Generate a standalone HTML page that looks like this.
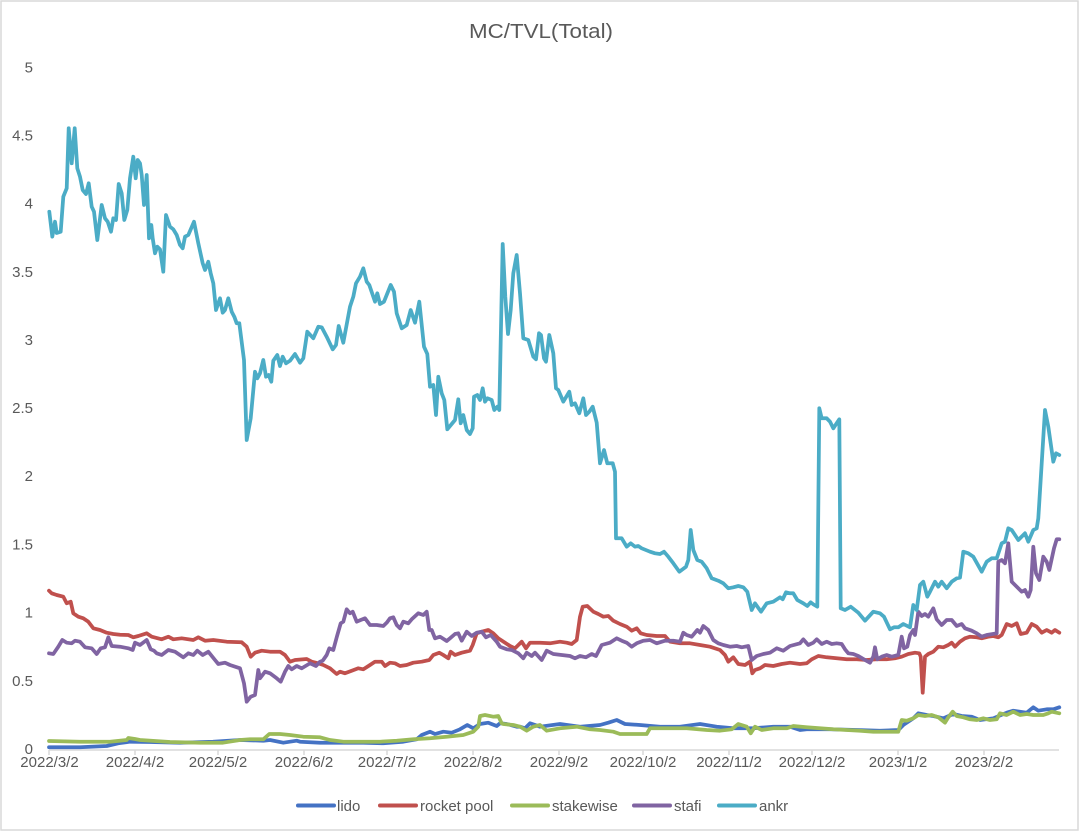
<!DOCTYPE html>
<html>
<head>
<meta charset="utf-8">
<style>
html,body{margin:0;padding:0;background:#fff;}
svg{display:block;}
text{font-family:"Liberation Sans",Arial,sans-serif;fill:#595959;}
</style>
</head>
<body>
<svg width="1080" height="832" viewBox="0 0 1080 832" xmlns="http://www.w3.org/2000/svg">
<rect x="0" y="0" width="1080" height="832" fill="#fff"/>
<rect x="1" y="1" width="1077" height="829" fill="none" stroke="#d9d9d9" stroke-width="1.5"/>

<text x="541" y="38" font-size="20" text-anchor="middle" textLength="144" lengthAdjust="spacingAndGlyphs">MC/TVL(Total)</text>

<!-- y labels -->
<g font-size="15" text-anchor="end">
<text x="33" y="754">0</text>
<text x="33" y="686">0.5</text>
<text x="33" y="617.5">1</text>
<text x="33" y="549.5">1.5</text>
<text x="33" y="481">2</text>
<text x="33" y="413">2.5</text>
<text x="33" y="345">3</text>
<text x="33" y="277">3.5</text>
<text x="33" y="208.5">4</text>
<text x="33" y="140.5">4.5</text>
<text x="33" y="72.5">5</text>
</g>

<!-- x axis -->
<line x1="49" y1="750" x2="1059" y2="750" stroke="#d9d9d9" stroke-width="1.5"/>
<g stroke="#d9d9d9" stroke-width="1.5">
<line x1="49" y1="750" x2="49" y2="755"/>
<line x1="135" y1="750" x2="135" y2="755"/>
<line x1="218" y1="750" x2="218" y2="755"/>
<line x1="304" y1="750" x2="304" y2="755"/>
<line x1="387" y1="750" x2="387" y2="755"/>
<line x1="473" y1="750" x2="473" y2="755"/>
<line x1="559" y1="750" x2="559" y2="755"/>
<line x1="643" y1="750" x2="643" y2="755"/>
<line x1="729" y1="750" x2="729" y2="755"/>
<line x1="812" y1="750" x2="812" y2="755"/>
<line x1="898" y1="750" x2="898" y2="755"/>
<line x1="984" y1="750" x2="984" y2="755"/>
</g>
<g font-size="15" text-anchor="middle">
<text x="49.5" y="767">2022/3/2</text>
<text x="135" y="767">2022/4/2</text>
<text x="218" y="767">2022/5/2</text>
<text x="304" y="767">2022/6/2</text>
<text x="387" y="767">2022/7/2</text>
<text x="473" y="767">2022/8/2</text>
<text x="559" y="767">2022/9/2</text>
<text x="643" y="767">2022/10/2</text>
<text x="729" y="767">2022/11/2</text>
<text x="812" y="767">2022/12/2</text>
<text x="898" y="767">2023/1/2</text>
<text x="984" y="767">2023/2/2</text>
</g>

<g fill="none" stroke-width="3.75" stroke-linejoin="round" stroke-linecap="round">
<!-- lido -->
<polyline stroke="#4472C4" points="49,747.3 80,747.3 106.7,746 118.3,743.3 130,741.7 150,742 180,742.7 213,741.7 240,740 263.3,740.7 270,740 283.3,742.7 296.7,740.7 300,741.7 320,742.7 330,742.7 363.3,742.7 383.3,743.3 403.3,741.7 416.7,739.3 421.7,735 430,731.7 435,734 443.3,731.7 451.7,732.7 460,729.3 467.3,725 473.3,728.3 480,724 488.3,722.7 496.7,726 500,723.3 506.7,724 516.7,726.7 520,726.7 525,728.3 530,723.3 540,726.7 560,724 580,726.7 600,725 608.3,722.7 616.7,720 625,724 640,725 660,726.7 680,726.7 700,724 716.7,726.7 733.3,728.3 753.3,728.3 773.3,726.7 790,726.7 800,730 806.7,729.3 830,729.3 856.7,730 880,730.7 898.3,730 903.3,725 913.3,718.3 918.3,713.3 926.7,715 933.3,716 943.3,718.3 953.3,714 961.7,716 971.7,716.7 980,720 993.3,718.3 1006.7,712.7 1013.3,710.7 1026.7,712.7 1033.3,707.3 1038.3,710.7 1046.7,709.3 1053.3,709.3 1059.3,707.3"/>
<!-- rocket pool -->
<polyline stroke="#C0504D" points="49,590.7 51.7,593.3 56.7,595 63.3,596.7 66.7,603.3 70.7,601.7 73.3,613.3 78.3,616.7 83.3,618.3 88.3,621.7 93.3,628.3 100,630 106.7,632.7 113.3,634 120,634.7 128.3,635 133.3,637.3 138.3,636 146.7,633.3 151.7,636.7 161.7,639.3 168.3,636.7 173.3,639.3 181.7,638.3 193.3,640 198.3,637.3 205,640.7 213.3,640 226.7,641.7 241.7,642.3 246.7,646.7 250.7,656.7 255,652.7 261.7,650.7 270,651.7 280,651.7 285,655 290,661.7 295,660 306.7,659 311.7,661.7 318.3,663.3 323.3,665 330,668.3 336.7,674 340,671.7 345,673.3 351.7,670.7 358.3,668.3 363.3,669.3 370,665 375,661.7 381.7,661.7 385,666 390,662.7 395,663.3 400,666 406.7,665 413.3,662.7 421.7,661.7 429.3,660 433.3,655 439.3,652.7 443.3,655 448.3,658.3 450.7,651.7 455,655 461.7,652.7 470,650.7 472.7,645 476.7,633.3 481.7,631.7 488.3,630 493.3,633.3 498.3,638.3 505,642.7 510,646 515,648.3 521.7,641.7 526,648.3 530,642.7 540,642.7 550,643.3 560,641.7 566.7,642.7 571.7,644 576.7,640 580,616.7 582.7,606.7 587.3,606 593.3,611.7 598.3,614 603.3,616.7 608.3,616 613.3,620.7 620,624 626.7,626.7 631.7,630.7 636.7,628.3 640.7,633.3 646.7,635 656.7,636 665,636 670,641.7 680,643.3 690,643.3 700,645 710,646.7 720,650 725,655 728.3,661.7 733.3,657.3 738.3,664 745,665 750,661.7 752.3,673.3 755,670 760,668.3 765,665 773.3,666 781.7,664 790,662.7 800,664 806.7,663.3 811.7,659.3 818.3,656 826.7,657.3 836.7,658.3 846.7,659.3 856.7,659.3 866.7,660 876.7,659.3 886.7,659.3 895,658.3 901.7,656.7 908.3,654 915,652.7 919.3,653.3 920.7,656.7 922.7,692.7 925,656.7 928.3,654 933.3,651.7 938.3,646.7 943.3,647.3 948.3,645 951.7,642.7 955,646.7 960,641.7 965,638.3 970,636.7 976.7,637.3 981.7,638.3 988.3,636.7 993.3,636 998.3,637.3 1001.7,635 1006.7,624 1011.7,626 1016.7,623.3 1020.7,634 1026.7,632.7 1031.7,624 1036.7,626.7 1041.7,632.7 1046.7,630 1051.7,632.7 1055,630 1059.3,632.7"/>
<!-- stakewise -->
<polyline stroke="#9BBB59" points="49,741 80,741.7 110,741.7 126.7,740 128.3,738 135,739 140,740 170,742 200,742.7 213,742.7 223,742.7 240,740 250,739.3 263.3,739.3 269.3,734 280,734 290,735 303.3,736.7 320,737.3 330,740 343.3,741.7 363.3,741.7 380,741.7 396.7,740.7 413.3,739.3 430,738.3 446.7,736.7 463.3,735 473.3,731.7 478.3,726.7 480,716 485,715 493.3,716.7 498.3,716 501.7,723.3 503.3,724 513.3,725 520,726.7 526.7,730.7 533.3,726.7 540,725 546.7,730.7 560,728.3 576.7,726.7 590,729.3 600,730 613.3,731.7 620,734 633.3,734 646.7,734 650,728.3 666.7,728.3 686.7,728.3 706.7,730 720,730.7 731.7,729.3 738.3,724 746.7,726.7 750.7,733.3 755,726.7 761.7,730 773.3,728.3 786.7,728.3 793.3,726 806.7,727.3 820,728.3 833.3,729.3 846.7,730 860,730.7 873.3,731.7 886.7,731.7 898.3,731.7 901.7,720 906.7,720.7 913.3,718.3 918.3,715 925,716 931.7,715 938.3,717.3 945,722.7 948.3,717.3 952.7,711.7 956.7,716 963.3,717.3 970,719.3 976.7,720 983.3,718.3 990,720 996.7,719.3 1000,713.3 1006.7,715 1013.3,711.7 1020,715 1026.7,714 1033.3,715 1043.3,715 1048.3,713.3 1051.7,711.7 1059.3,713.3"/>
<!-- stafi -->
<polyline stroke="#8064A2" points="49,653.3 53.3,654 58.3,646.7 62.3,640 66.7,642.7 71.7,643.3 75,640.7 80,641.7 85,647.3 91.7,648.3 96.7,654 100.7,648.3 105,647.3 108.3,637.3 111.7,646 120,646.7 128.3,648.3 132.7,650 135,642.7 140,645 146.7,640 150.7,649.3 154,650.7 156.7,653.3 161.7,655 168.3,650 175,651.7 183.3,657.3 188.3,653.3 193.3,655 197.3,650.7 202.7,655 208.3,651.7 215,660 218.3,664 225,662.7 230,665 240,668.3 244,683.3 246.7,701.7 250.7,696.7 255,695 258.3,670 260,678.3 265,671.7 270,673.3 276.7,678.3 280.7,681.7 285,671.7 288.3,666 291.7,669.3 296.7,666 301.7,668.3 310,663.3 316,666 320,661.7 322.7,660.7 326.7,655 329.3,648.3 333.3,650 336.7,637.3 340.7,623.3 343.3,621.7 346.7,609.3 350,613.3 352.7,611.7 356.7,621.7 360.7,620 365,618.3 370,625 376.7,625 383.3,626 386.7,622.7 390,618.3 393.3,617.3 396.7,625 400,628.3 403.3,621.7 408.3,623.3 411.7,619.3 418.3,613.3 423.3,615 426.7,611.7 429.3,630 431.7,630 435,638.3 440,636.7 446.7,641 450,638.3 455,634 458.3,633.3 461.7,640.7 466.7,631.7 471.7,636 476.7,632.7 481.7,631.7 486,637.3 490.7,635 496.7,641.7 500,646.7 506.7,649.3 511.7,650 518.3,653.3 523.3,658.3 526.7,652.7 531.7,656 535,652.7 541.7,660 546.7,650.7 553.3,654 561.7,655 570,656 575,658.3 580,656 586,657.3 591.7,654 596,656 601.7,645 610,642.7 616.7,638.3 621.7,640.7 626.7,642.7 631.7,646.7 636.7,643.3 643.3,640.7 650,640 656.7,643.3 665,640.7 673.3,640.7 680,641.7 683.3,632.7 686.7,635 691.7,636.7 697.3,630 700,632.7 703.3,626 708.3,630 713.3,640 718.3,643.3 723.3,645 730,646.7 736.7,646 741.7,647.3 748.3,646 751.7,660 756.7,656 763.3,654 770,652.7 776.7,648.3 783.3,650.7 790,646 800,643.3 803.3,639.3 808.3,645 813.3,642.7 816.7,639.3 821.7,644 826.7,641.7 831.7,644 836.7,643.3 841.7,644 845,649.3 848.3,653.3 853.3,654 858.3,656 865,660 870,662.7 873.3,656.7 875,647.3 877.3,659.3 881.7,656.7 886.7,655 891.7,656.7 898.3,655 901.7,636.7 904,648.3 907.3,646.7 910,635 913.3,630 915,635 918.3,611.7 921.7,616 925,614 928.3,616.7 933.3,608.3 936.7,619.3 941.7,625 946.7,620 951.7,620 956.7,626 961.7,624 965,628.3 971.7,630.7 976.7,633.3 981.7,636.7 986.7,635 996.7,633.3 998.3,561.7 1001.7,560 1005,563.3 1008.3,543.3 1011.7,581.7 1016.7,586.7 1021.7,591.7 1025,590 1028.3,596.7 1030.7,590 1033.3,546.7 1036,573.3 1039.3,580 1043.3,556.7 1046.7,561.7 1049.3,570 1054,548.3 1056.7,539.3 1059.3,539.3"/>
<!-- ankr -->
<polyline stroke="#4BACC6" points="49.3,211.7 52.3,236.7 55,221.7 56.7,233 60.7,231.7 63.3,196.7 66.7,188.3 68.7,128.3 71.7,163.3 74.7,128.3 77.3,168.3 80,176.7 82.7,190 86,194 88.7,183.3 91.7,206.7 94,211.7 97.3,240 101.7,205 105,218.3 107.7,221.7 111,231.7 113.3,218.3 116,220 118.7,184 121.7,193.3 124.3,220 127.3,210 130,178.3 133.3,156.7 135.7,178.3 137.7,160 140,163.3 141.7,175 144,205 146.7,175 149,238.3 151.3,225 152.7,238.3 155,253.3 157.3,246.7 160,249.3 163.3,271.7 166,215 170,226.7 173.3,229.3 176.7,235 180,245 182.7,248.3 185,236.7 188.3,235 194,221.7 198.3,243.3 202.7,263.3 205,270 208.3,261.7 210.7,273.3 213.3,283.3 216,310 220,298.3 222.7,312.7 225,310 228.3,298.3 231.7,311.7 234.3,316.7 236.7,323.3 239.3,323.3 244,360 246.7,440 250.7,418.3 255,371.7 257.3,378.3 260,373.3 263.3,360 266,376.7 268.7,375 271.3,381.7 273.3,360.7 277.3,355 280,366 282.7,356.7 286,363.3 290,360.7 295,354 300,362.7 303.3,358.3 307.3,331.7 313.3,338.3 318.3,326.7 321.7,327.3 326.7,336.7 332.7,349.3 336,345 338.7,326 343.3,342.7 350,306.7 353.3,296.7 356,283.3 360,276.7 363.3,268.3 366.7,281.7 369.3,285 375,301.7 377.3,293.3 380,304 384,301.7 390.7,285 394,291.7 396.7,313.3 401.7,328.3 406.7,325 410.7,310 415,322.7 419.3,301.7 424,346.7 427.3,354 430,386.7 433.3,385 436,415 438.3,376.7 441.7,393.3 444.3,400 447.3,429.3 455,420 458.3,399.3 460.7,423.3 463.3,415 466.7,430 470,434 472.7,428.3 474,396.7 477.3,395 480,400 482.7,388.3 485,401.7 487.3,398.3 491.7,400 494.3,410 497.3,406.7 499.3,410 502.7,244 505.3,296.7 508,334 510.7,310 513.3,273.3 516.7,255 520,293.3 523.3,338.3 528.3,340 533.3,356.7 536,359.3 539,333.3 541,335 544,358.3 546,361.7 549.3,335 553.3,353.3 556,388.3 558.3,390 563.3,401.7 569.3,391.7 571.7,405 575,403.3 579.3,413.3 583.3,398.3 586,415 589.3,411.7 592.7,406.7 596.7,422.7 600,463.3 604,450 607.3,463.3 612.7,463.3 615,471.7 616,538.3 621.7,538.3 626.7,546.7 630.7,543.3 635,546.7 638.3,546 641.7,548.3 650,551.7 655,553.3 660,554 664,551.7 668.3,556.7 673.3,563.3 679.3,571.7 686,566.7 688.3,560 690.7,530 693.3,550 697.3,560 701.7,561.7 706.7,568.3 711.7,578.3 718.3,580.7 723.3,583.3 728.3,588.3 733.3,587.3 738.3,586 743.3,587.3 747.3,591.7 751.7,610 755,603.3 761,611.7 766.7,603.3 773.3,601.7 780,597.3 782.7,599.3 786,592.3 790,593.3 793.3,593.3 797.3,600 803.3,603.3 807.3,606 810.7,602.3 813.3,604.3 817.3,606.7 819.3,408.3 821.7,418.3 826.7,418.3 830,421.7 833.3,428.3 839.3,419.3 840.7,608.3 845,610 850.7,606.7 858.3,612.7 865,620.7 873.3,611.7 880,613.3 884,616.7 890,629.3 894,627.3 898.3,627.3 903.3,624 910,627.3 913.3,605 916.7,610 920,585 923.3,581.7 927.3,596.7 930,591.7 935,581.7 938.3,586.7 941.7,581.7 946.7,588.3 951.7,581.7 956.7,578.3 960,577.7 963.3,551.7 968.3,553.3 973.3,556.7 981.7,571.7 986.7,561.7 991.7,558.3 996.7,558.3 1001.7,543.3 1005,541.7 1008.3,528.3 1011.7,530 1018.3,540 1025,533.3 1028.3,541.7 1033.3,530 1036.7,528.3 1038.3,518.3 1045,410 1048.3,426.7 1053.3,461.7 1056,453.3 1059.3,455"/>
</g>

<!-- legend -->
<g stroke-width="4" stroke-linecap="round">
<line x1="298" y1="805.5" x2="334" y2="805.5" stroke="#4472C4"/>
<line x1="380" y1="805.5" x2="416" y2="805.5" stroke="#C0504D"/>
<line x1="512" y1="805.5" x2="548" y2="805.5" stroke="#9BBB59"/>
<line x1="634" y1="805.5" x2="670" y2="805.5" stroke="#8064A2"/>
<line x1="719" y1="805.5" x2="755" y2="805.5" stroke="#4BACC6"/>
</g>
<g font-size="15">
<text x="337" y="811">lido</text>
<text x="420" y="811">rocket pool</text>
<text x="552" y="811">stakewise</text>
<text x="674" y="811">stafi</text>
<text x="759" y="811">ankr</text>
</g>
</svg>
</body>
</html>
